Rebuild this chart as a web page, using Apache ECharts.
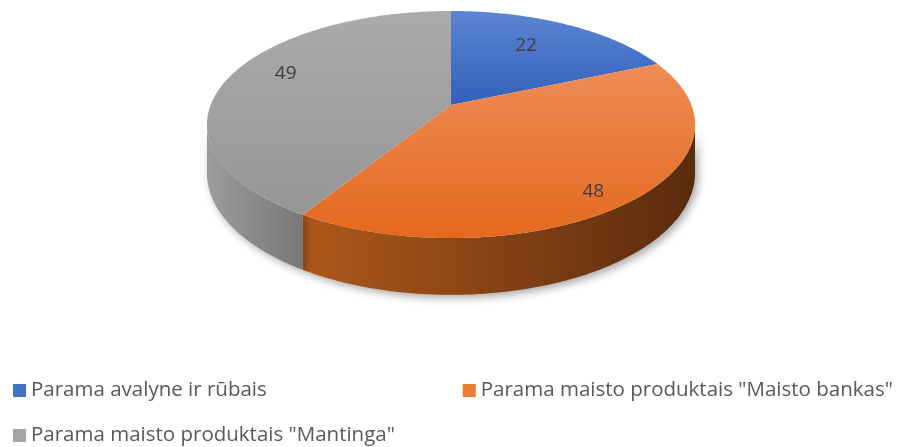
<!DOCTYPE html>
<html>
<head>
<meta charset="utf-8">
<script src="https://cdn.jsdelivr.net/npm/echarts@6/dist/echarts.min.js"></script>
<style>
  html, body { margin: 0; background: #fff; }
  #chart { width: 903px; height: 447px; }
</style>
</head>
<body>
<div id="chart"></div>
<script>
const categories = [
  'Parama avalyne ir rūbais',
  'Parama maisto produktais "Maisto bankas"',
  'Parama maisto produktais "Mantinga"',
];
const values = [22, 48, 49];

const legendColors = ['#4472C4', '#ED7D31', '#A5A5A5'];
const topColors = [['#5C85D2', '#3360BA'], ['#EF8C57', '#E4691E'], ['#ABABAB', '#969696']];
const sideColors = [['#3A5FA8', '#1F3A70'], ['#AE591C', '#5A2B0D'], ['#9C9C9C', '#777777']];

// Excel-like 3D pie: a disc seen in perspective (apex, radii, tilt, thickness)
const P = { x0: 451, y0: 105, a: 240.4, b: 110.2, k: 0.172, depth: 47 };
// where each value label sits: fraction of radius + small vertical nudge
const labelPos = [{ r: 0.62, dy: -7 }, { r: 0.81, dy: 11 }, { r: 0.74, dy: -10 }];
const FONT = '"Open Sans", "Noto Sans", sans-serif';

const total = values.reduce((s, v) => s + v, 0);
const TAU = Math.PI * 2;

function project(phi, r, drop) {
  const u = Math.sin(phi) * r;
  const v = Math.cos(phi) * r;
  const w = 1 + P.k * v;
  return [P.x0 + (P.a * u) / w, P.y0 + (-P.b * v + (drop || 0)) / w];
}

function arc(from, to, drop) {
  const pts = [];
  const n = Math.max(2, Math.ceil(Math.abs(to - from) / 0.01));
  for (let j = 0; j <= n; j++) pts.push(project(from + ((to - from) * j) / n, 1, drop));
  return pts;
}

// silhouette of the disc side: where cos(phi) = -k
const sideFrom = Math.acos(-P.k);
const sideTo = TAU - sideFrom;

function renderSlice(i) {
  return function (params, api) {
    const before = values.slice(0, i).reduce((s, v) => s + v, 0);
    const start = (before / total) * TAU;
    const end = start + (api.value(0) / total) * TAU;
    const children = [];

    const a0 = Math.max(start, sideFrom);
    const a1 = Math.min(end, sideTo);
    if (a1 > a0) {
      const pts = arc(a0, a1, 0).concat(arc(a1, a0, P.depth));
      children.push({
        type: 'polygon',
        z2: 1,
        shape: { points: pts },
        style: {
          fill: new echarts.graphic.LinearGradient(0, 0, 1, 0, [
            { offset: 0, color: sideColors[i][0] },
            { offset: 1, color: sideColors[i][1] },
          ]),
          shadowBlur: 9,
          shadowColor: 'rgba(0,0,0,0.35)',
          shadowOffsetX: 3,
          shadowOffsetY: 3,
        },
      });
    }

    children.push({
      type: 'polygon',
      z2: 10,
      shape: { points: [[P.x0, P.y0]].concat(arc(start, end, 0)) },
      style: {
        fill: new echarts.graphic.LinearGradient(0, 0, 0, 1, [
          { offset: 0, color: topColors[i][0] },
          { offset: 1, color: topColors[i][1] },
        ]),
      },
    });

    const mid = (start + end) / 2;
    const lp = project(mid, labelPos[i].r, 0);
    children.push({
      type: 'text',
      z2: 20,
      x: lp[0],
      y: lp[1] + labelPos[i].dy,
      style: {
        text: String(api.value(0)),
        fill: '#404040',
        font: '19px ' + FONT,
        align: 'center',
        verticalAlign: 'middle',
      },
    });

    return { type: 'group', children: children };
  };
}

const chart = echarts.init(document.getElementById('chart'), null, { renderer: 'canvas' });

const legendBase = {
  left: 13,
  padding: 0,
  icon: 'rect',
  itemWidth: 13,
  itemHeight: 13,
  selectedMode: false,
  textStyle: { fontSize: 20.5, color: '#595959', fontFamily: FONT },
};

chart.setOption({
  animation: false,
  legend: [
    Object.assign({}, legendBase, { top: 380, itemGap: 196, data: categories.slice(0, 2) }),
    Object.assign({}, legendBase, { top: 425, data: categories.slice(2) }),
  ],
  series: categories.map((name, i) => ({
    type: 'custom',
    name: name,
    coordinateSystem: 'none',
    itemStyle: { color: legendColors[i] },
    renderItem: renderSlice(i),
    data: [values[i]],
  })),
});

window.addEventListener('resize', () => chart.resize());
</script>
</body>
</html>
